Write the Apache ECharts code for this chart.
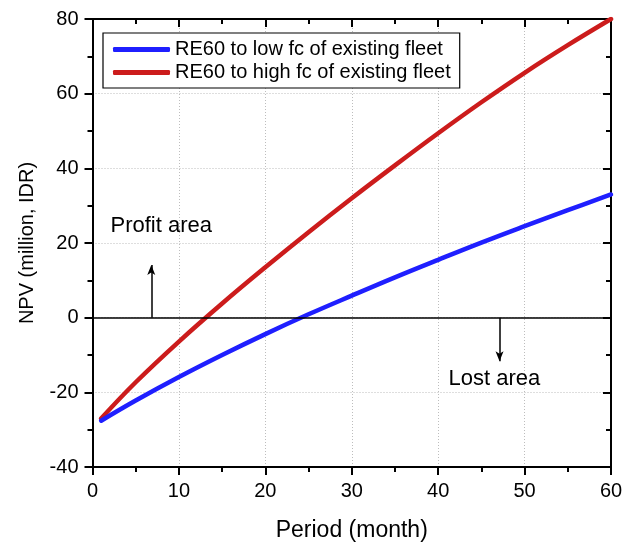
<!DOCTYPE html>
<html>
<head>
<meta charset="utf-8">
<script src="https://cdn.jsdelivr.net/npm/echarts@6/dist/echarts.min.js"></script>
<style>
  html, body { margin: 0; padding: 0; background: #fff; }
  #chart { width: 635px; height: 547px; }
</style>
</head>
<body>
<div id="chart"></div>
<script>
// ===== data =====
const periods = [1, 5, 10, 15, 20, 25, 30, 35, 40, 45, 50, 55, 60];
const npvLow  = [-27.6, -22.2, -15.9, -10.0, -4.4, 0.9, 5.9, 10.8, 15.5, 20.1, 24.5, 28.8, 33.0];
const npvHigh = [-27.0, -17.3, -6.4, 3.8, 13.5, 22.9, 32.0, 40.8, 49.4, 57.7, 65.6, 73.0, 80.0];
const seriesNames = ["RE60 to low fc of existing fleet", "RE60 to high fc of existing fleet"];
const xTicks = { min: 0, max: 60, interval: 10 };
const yTicks = { min: -40, max: 80, interval: 20 };
// annotation text + arrows (data coords)
const notes = [[2.08, 24.6, "Profit area"], [41.2, -16.5, "Lost area"]];
const arrows = [[6.8, 0, 14.1], [47.1, 0, -11.7]];

const FONT = "Liberation Sans, Arial, sans-serif";
const BLUE = "#1f1fff";
const RED = "#cc1c1c";

const pair = (xs, ys) => xs.map((x, i) => [x, ys[i]]);

const mainAxisX = {
  type: "value", ...xTicks,
  name: "Period (month)", nameLocation: "middle", nameGap: 52,
  nameTextStyle: { fontSize: 23, color: "#000", fontFamily: FONT },
  axisLine: { onZero: false, lineStyle: { color: "#000", width: 2 } },
  axisTick: { inside: false, length: 8, lineStyle: { width: 2, color: "#000" } },
  minorTick: { show: true, splitNumber: 2, length: 5, lineStyle: { width: 2, color: "#000" } },
  axisLabel: { fontSize: 20, color: "#000", fontFamily: FONT, margin: 14 },
  splitLine: { show: true, lineStyle: { color: "#bdbdbd", type: [1, 2], width: 1 } },
};
const mainAxisY = {
  type: "value", ...yTicks,
  name: "NPV (million, IDR)", nameLocation: "middle", nameGap: 55,
  nameTextStyle: { fontSize: 20, color: "#000", fontFamily: FONT },
  axisLine: { onZero: false, lineStyle: { color: "#000", width: 2 } },
  axisTick: { inside: false, length: 8, lineStyle: { width: 2, color: "#000" } },
  minorTick: { show: true, splitNumber: 2, length: 5, lineStyle: { width: 2, color: "#000" } },
  axisLabel: { fontSize: 20, color: "#000", fontFamily: FONT, margin: 14 },
  splitLine: { show: true, lineStyle: { color: "#bdbdbd", type: [1, 2], width: 1 } },
};
// mirrored frame axes (top/right), ticks inside, no labels
const mirror = (base, pos) => ({
  type: "value", min: base.min, max: base.max, interval: base.interval, position: pos,
  axisLine: { show: true, onZero: false, lineStyle: { color: "#000", width: 2 } },
  axisTick: { show: true, inside: true, length: 8, lineStyle: { width: 2, color: "#000" } },
  minorTick: { show: true, splitNumber: 2, length: 5, lineStyle: { width: 2, color: "#000" } },
  axisLabel: { show: false },
  splitLine: { show: false },
});

const arrowLines = arrows.map(([x, y0, y1]) => [
  { coord: [x, y0], symbol: "none" },
  { coord: [x, y1], symbol: "arrow", symbolSize: [6, 10] },
]);

const option = {
  animation: false,
  grid: { left: 92.5, right: 24, top: 19, bottom: 80 },
  legend: {
    data: seriesNames,
    orient: "vertical",
    left: 103, top: 33,
    padding: [5, 9, 4, 10],
    itemGap: 0,
    itemWidth: 57, itemHeight: 5,
    icon: "roundRect",
    borderColor: "#000", borderWidth: 1.2,
    backgroundColor: "#fff",
    textStyle: { fontSize: 20, color: "#000", fontFamily: FONT, lineHeight: 23 },
  },
  xAxis: [mainAxisX, mirror(xTicks, "top")],
  yAxis: [mainAxisY, mirror(yTicks, "right")],
  series: [
    {
      name: seriesNames[1], type: "line", smooth: 0.4, showSymbol: false,
      data: pair(periods, npvHigh), color: RED,
      lineStyle: { width: 4.5, color: RED, cap: "round" },
      z: 3,
    },
    {
      name: seriesNames[0], type: "line", smooth: 0.4, showSymbol: false,
      data: pair(periods, npvLow), color: BLUE,
      lineStyle: { width: 4.5, color: BLUE, cap: "round" },
      z: 4,
      markLine: {
        silent: true, animation: false, symbol: "none",
        label: { show: false },
        lineStyle: { color: "#000", width: 1.5, type: "solid" },
        data: [{ yAxis: 0 }, ...arrowLines],
      },
    },
    {
      name: "notes", type: "scatter", symbolSize: 0,
      data: notes, silent: true,
      itemStyle: { opacity: 1 },
      label: {
        show: true, position: "right", distance: 0,
        formatter: (p) => p.value[2],
        fontSize: 22, color: "#000", fontFamily: FONT,
      },
    },
  ],
};

const chart = echarts.init(document.getElementById("chart"), null, { renderer: "canvas" });
chart.setOption(option);
</script>
</body>
</html>
